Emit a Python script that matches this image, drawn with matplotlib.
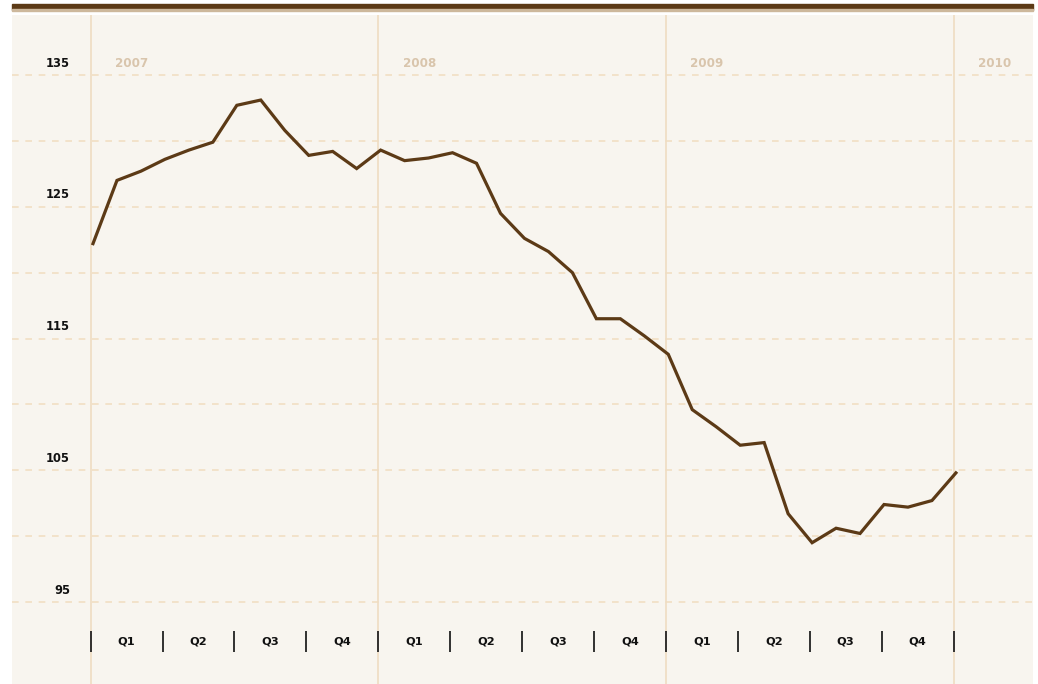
import matplotlib
matplotlib.use("Agg")
import matplotlib.pyplot as plt
import matplotlib.transforms as mtrans
from matplotlib.patches import Rectangle

# ---- data ----
months = list(range(37))  # months since Jan 2007
values = [122.2, 127.0, 127.7, 128.6, 129.3, 129.9, 132.7, 133.1, 130.8, 128.9,
          129.2, 127.9, 129.3, 128.5, 128.7, 129.1, 128.3, 124.5, 122.6, 121.6,
          120.0, 116.5, 116.5, 115.2, 113.8, 109.6, 108.3, 106.9, 107.1, 101.7,
          99.5, 100.6, 100.2, 102.4, 102.2, 102.7, 104.8]
years = ["2007", "2008", "2009", "2010"]
year_months = [0, 12, 24, 36]
ytick_labels = [135, 125, 115, 105, 95]
grid_values = [135, 130, 125, 120, 115, 110, 105, 100, 95]
quarter_labels = ["Q1", "Q2", "Q3", "Q4"] * 3
quarter_bounds = list(range(0, 37, 3))

# ---- style ----
W, H = 1038, 684
BROWN = "#5c3a16"
PANEL = "#f8f5ef"
GRID = "#f1dfc3"
YEARLINE = "#efdcc2"
YEARTXT = "#d9c5ac"
FONT = ["DejaVu Sans"]

fig = plt.figure(figsize=(W / 100, H / 100), dpi=100)
fig.patch.set_facecolor("white")

# panel
x0, x1 = 12, 1033
ptop = 15
ax = fig.add_axes([x0 / W, 0, (x1 - x0) / W, (H - ptop) / H])
ax.set_facecolor(PANEL)
for s in ax.spines.values():
    s.set_visible(False)
ax.set_xticks([])
ax.set_yticks([])

px_per_month = 23.97
xm_left = (x0 - 93) / px_per_month
xm_right = (x1 - 93) / px_per_month
px_per_unit = 13.175
y_top = 135 + (75 - ptop) / px_per_unit
y_bot = 135 - (H - 75) / px_per_unit
ax.set_xlim(xm_left, xm_right)
ax.set_ylim(y_bot, y_top)

# top brown bar
fig.patches.append(Rectangle((x0 / W, (H - 9.5) / H), (x1 - x0) / W, 5.5 / H,
                             transform=fig.transFigure, color=BROWN, zorder=5))
fig.patches.append(Rectangle((x0 / W, (H - 10.5) / H), (x1 - x0) / W, 1.0 / H,
                             transform=fig.transFigure, color="#cdb89c", zorder=5))

# horizontal dashed grid
for g in grid_values:
    ax.axhline(g, color=GRID, lw=1.2, ls=(0, (4, 4)), zorder=1)

# year lines
for m in year_months:
    ax.axvline(m - 0.1, color=YEARLINE, lw=1.2, zorder=1)

# y labels
trans_y = mtrans.blended_transform_factory(ax.transAxes, ax.transData)
off = mtrans.ScaledTranslation(0, 12 / 100, fig.dpi_scale_trans)
for v in ytick_labels:
    ax.text((70 - x0) / (x1 - x0), v, str(v), transform=trans_y + off,
            ha="right", va="center", fontsize=8.3, fontweight="bold",
            color="#111111", family=FONT)

# year labels
yoff = mtrans.ScaledTranslation(22 / 100, 12 / 100, fig.dpi_scale_trans)
for m, lab in zip(year_months, years):
    ax.text(m, 135, lab, transform=ax.transData + yoff, ha="left", va="center",
            fontsize=8.6, fontweight="bold", color=YEARTXT, family=FONT)

# quarter ticks and labels
trans_x = mtrans.blended_transform_factory(ax.transData, ax.transAxes)
t_lo = (H - 652) / (H - ptop)
t_hi = (H - 631) / (H - ptop)
t_mid = (H - 642) / (H - ptop)
for b in quarter_bounds:
    ax.plot([b - 0.1, b - 0.1], [t_lo, t_hi], transform=trans_x, color="#222222", lw=1.3,
            zorder=3, solid_capstyle="butt")
for i, lab in enumerate(quarter_labels):
    ax.text(quarter_bounds[i] + 1.4, t_mid, lab, transform=trans_x, ha="center",
            va="center", fontsize=8.2, fontweight="bold", color="#111111", family=FONT)

# data line
ax.plot(months, values, color=BROWN, lw=2.3, zorder=4, solid_joinstyle="miter")

fig.savefig("out.png", dpi=100, facecolor="white")
